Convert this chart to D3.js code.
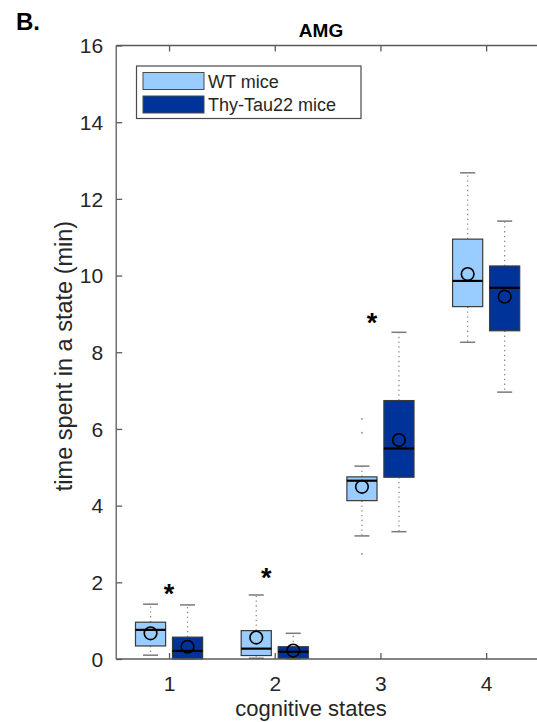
<!DOCTYPE html>
<html>
<head>
<meta charset="utf-8">
<script src="https://cdn.jsdelivr.net/npm/d3@7"></script>
<style>
  html, body { margin: 0; padding: 0; background: #fff; overflow: hidden; }
  svg { display: block; overflow: hidden; }
  text { font-family: "Liberation Sans", Arial, Helvetica, sans-serif; }
</style>
</head>
<body>
<svg id="chart" width="537" height="722"></svg>
<script>
// ---- data ----
const categories = [1, 2, 3, 4];
const groups = ["WT mice", "Thy-Tau22 mice"];
const groupColors = ["#99ccff", "#003399"];

const wtWhiskerLow  = [0.10, 0.02, 3.21, 8.26];
const wtQ1          = [0.34, 0.09, 4.13, 9.19];
const wtMedian      = [0.76, 0.27, 4.65, 9.86];
const wtQ3          = [0.96, 0.74, 4.75, 10.95];
const wtWhiskerHigh = [1.43, 1.67, 5.03, 12.68];
const wtMean        = [0.67, 0.56, 4.49, 10.04];
const wtOutliers    = [[], [], [6.26, 5.90, 2.74], []];

const tgWhiskerLow  = [0.00, 0.00, 3.32, 6.96];
const tgQ1          = [0.00, 0.02, 4.74, 8.56];
const tgMedian      = [0.21, 0.19, 5.49, 9.68];
const tgQ3          = [0.57, 0.32, 6.74, 10.25];
const tgWhiskerHigh = [1.41, 0.67, 8.52, 11.42];
const tgMean        = [0.32, 0.22, 5.71, 9.45];
const tgOutliers    = [[], [], [], []];

const starX = [1.0, 1.92, 2.92];
const starY = [1.85, 2.27, 8.93];

const yTicks = [0, 2, 4, 6, 8, 10, 12, 14, 16];

(function () {
// ---- layout ----
const svg = d3.select("#chart");
const mLeft = 116.2, mRight = 539, mTop = 45.5, mBottom = 659;
const x = d3.scaleLinear().domain([0.5, 4.5]).range([mLeft, mRight]);
const y = d3.scaleLinear().domain([0, 16]).range([mBottom, mTop]);
const offset = 0.175, boxW = 0.285;
const axisColor = "#5a5a5a", textColor = "#262626";

const series = [
  {name: groups[0], color: groupColors[0], dx: -offset, lo: wtWhiskerLow, q1: wtQ1, med: wtMedian, q3: wtQ3, hi: wtWhiskerHigh, mean: wtMean, out: wtOutliers},
  {name: groups[1], color: groupColors[1], dx: +offset, lo: tgWhiskerLow, q1: tgQ1, med: tgMedian, q3: tgQ3, hi: tgWhiskerHigh, mean: tgMean, out: tgOutliers}
];

const plot = svg.append("g");

series.forEach(s => {
  categories.forEach((c, i) => {
    const cx = x(c + s.dx);
    const halfW = (x(c + boxW / 2) - x(c - boxW / 2)) / 2;
    const capHalf = halfW * 0.5;
    const g = plot.append("g");
    g.append("line").attr("x1", cx).attr("x2", cx).attr("y1", y(s.q3[i])).attr("y2", y(s.hi[i]))
      .attr("stroke", "#8a8a8a").attr("stroke-width", 1.3).attr("stroke-dasharray", "1.3,3.5");
    g.append("line").attr("x1", cx).attr("x2", cx).attr("y1", y(s.q1[i])).attr("y2", y(s.lo[i]))
      .attr("stroke", "#8a8a8a").attr("stroke-width", 1.3).attr("stroke-dasharray", "1.3,3.5");
    [s.hi[i], s.lo[i]].forEach(v => {
      g.append("line").attr("x1", cx - capHalf).attr("x2", cx + capHalf).attr("y1", y(v)).attr("y2", y(v))
        .attr("stroke", "#7a7a7a").attr("stroke-width", 1.5);
    });
    s.out[i].forEach(v => {
      g.append("circle").attr("cx", cx).attr("cy", y(v)).attr("r", 1).attr("fill", "#9a9a9a");
    });
    g.append("rect").attr("x", cx - halfW).attr("width", halfW * 2)
      .attr("y", y(s.q3[i])).attr("height", Math.max(0.5, y(s.q1[i]) - y(s.q3[i])))
      .attr("fill", s.color).attr("stroke", "#3a3a3a").attr("stroke-width", 1.2);
    g.append("line").attr("x1", cx - halfW).attr("x2", cx + halfW).attr("y1", y(s.med[i])).attr("y2", y(s.med[i]))
      .attr("stroke", "#000").attr("stroke-width", 2.2);
    g.append("circle").attr("cx", cx).attr("cy", y(s.mean[i])).attr("r", 6.3)
      .attr("fill", "none").attr("stroke", "#000").attr("stroke-width", 1.6);
  });
});

// ---- axes ----
const gx = svg.append("g").attr("transform", `translate(0,${mBottom})`)
  .call(d3.axisBottom(x).tickValues(categories).tickFormat(d3.format("d")).tickSizeInner(-6).tickSizeOuter(0).tickPadding(17));
const gxTop = svg.append("g").attr("transform", `translate(0,${mTop})`)
  .call(d3.axisTop(x).tickValues(categories).tickFormat("").tickSizeInner(-6).tickSizeOuter(0));
const gy = svg.append("g").attr("transform", `translate(${mLeft},0)`)
  .call(d3.axisLeft(y).tickValues(yTicks).tickFormat(d3.format("d")).tickSizeInner(-6).tickSizeOuter(0).tickPadding(13));
[gx, gxTop, gy].forEach(g => {
  g.select(".domain").remove();
  g.selectAll(".tick line").attr("stroke", axisColor).attr("stroke-width", 1.3);
  g.selectAll(".tick text").attr("fill", textColor).style("font-size", "21px");
});
gx.selectAll(".tick text").attr("dy", "0.71em");
gy.selectAll(".tick text").attr("dy", "0.35em");
// axis lines
svg.append("line").attr("x1", mLeft).attr("x2", 537).attr("y1", mBottom).attr("y2", mBottom)
  .attr("stroke", axisColor).attr("stroke-width", 1.3);
svg.append("line").attr("x1", mLeft).attr("x2", 537).attr("y1", mTop).attr("y2", mTop)
  .attr("stroke", axisColor).attr("stroke-width", 1.3);
svg.append("line").attr("x1", mLeft).attr("x2", mLeft).attr("y1", mTop).attr("y2", mBottom)
  .attr("stroke", axisColor).attr("stroke-width", 1.3);

// ---- labels ----
svg.append("text").attr("x", 321).attr("y", 37).attr("text-anchor", "middle")
  .style("font-size", "19px").style("font-weight", "bold").attr("fill", "#000").text("AMG");
svg.append("text").attr("x", 16).attr("y", 30)
  .style("font-size", "24px").style("font-weight", "bold").attr("fill", "#000").text("B.");
svg.append("text").attr("x", 311).attr("y", 716).attr("text-anchor", "middle")
  .style("font-size", "22px").attr("fill", textColor).text("cognitive states");
svg.append("text").attr("transform", `translate(72,356) rotate(-90)`)
  .attr("text-anchor", "middle").style("font-size", "23.5px").attr("fill", textColor)
  .text("time spent in a state (min)");

// ---- significance stars ----
starX.forEach((sx, i) => {
  svg.append("text").attr("x", x(sx)).attr("y", y(starY[i]) + 15).attr("text-anchor", "middle")
    .style("font-size", "27px").style("font-weight", "bold").attr("fill", "#000").text("*");
});

// ---- legend ----
const leg = svg.append("g");
leg.append("rect").attr("x", 136.5).attr("y", 66).attr("width", 224.5).attr("height", 52.5)
  .attr("fill", "#fff").attr("stroke", "#4a4a4a").attr("stroke-width", 1.2);
groups.forEach((name, i) => {
  const yy = 72.5 + i * 23.5;
  leg.append("rect").attr("x", 143).attr("y", yy).attr("width", 61).attr("height", 17)
    .attr("fill", groupColors[i]).attr("stroke", "#4a4a4a").attr("stroke-width", 1);
  leg.append("text").attr("x", 208).attr("y", yy + 15).style("font-size", "18px")
    .attr("fill", textColor).text(name);
});
})();
</script>
</body>
</html>
